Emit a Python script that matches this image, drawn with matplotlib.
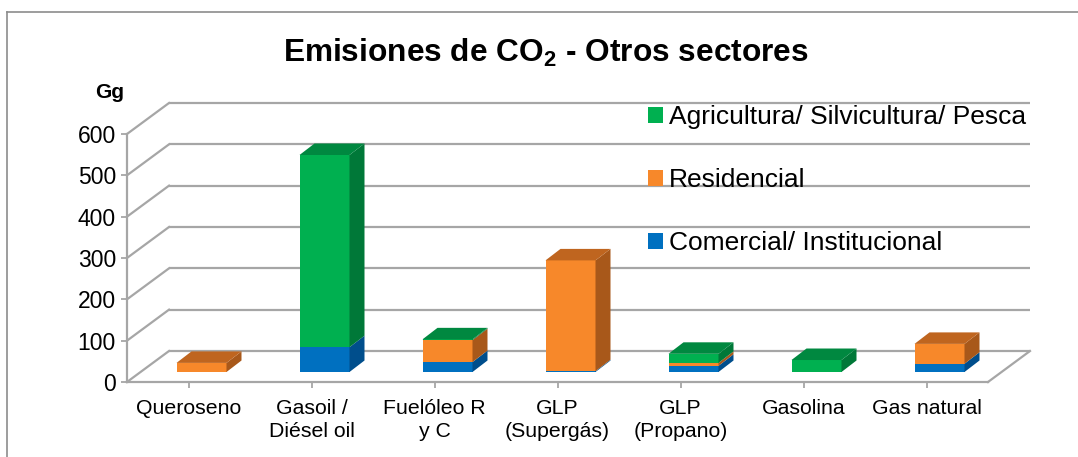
import matplotlib
matplotlib.use("Agg")
import matplotlib.pyplot as plt
from matplotlib.patches import Polygon
from matplotlib.lines import Line2D

# ---------------- data ----------------
categories = ["Queroseno", "Gasoil /\nDiésel oil", "Fuelóleo R\ny C", "GLP\n(Supergás)",
              "GLP\n(Propano)", "Gasolina", "Gas natural"]
comercial = [0, 60, 24, 2, 15, 0, 20]
residencial = [22, 0, 53, 268, 7, 0, 48]
agricultura = [0, 465, 2, 0, 22, 29, 0]
series_names = ["Comercial/ Institucional", "Residencial", "Agricultura/ Silvicultura/ Pesca"]
yticks = [0, 100, 200, 300, 400, 500, 600]

# ---------------- style ----------------
plt.rcParams['font.family'] = ['Liberation Sans', 'DejaVu Sans']
front_cols = ["#0070C0", "#F7882A", "#00B050"]
side_cols = ["#004E8C", "#A8581A", "#007838"]
top_cols = ["#005CA0", "#BF651F", "#008840"]
grid_col = "#A6A6A6"

W, H = 1078, 457
fig = plt.figure(figsize=(W / 100, H / 100), dpi=100)

# plot area geometry (pixels)
px_left, px_right, py_bottom, py_top = 127, 1033, 382, 104
cat_px = 123.0
val_px = 248.0 / 600.0
x0 = -0.5
x1 = x0 + (px_right - px_left) / cat_px
y1 = (py_bottom - py_top) / val_px
ax = fig.add_axes([px_left / W, (H - py_bottom) / H, (px_right - px_left) / W, (py_bottom - py_top) / H])
ax.set_xlim(x0, x1)
ax.set_ylim(0, y1)
ax.patch.set_alpha(0)

n = len(categories)
# depth offsets in data units
wall_dx, wall_dy = 42 / cat_px, 31 / val_px
bar_fx, bar_fy = 13 / cat_px, 10 / val_px
bar_dx, bar_dy = 15 / cat_px, 11.5 / val_px
bar_w = 50 / cat_px

# back wall gridlines and left diagonals
for v in yticks:
    ax.plot([x0 + wall_dx, n - 0.5 + wall_dx], [v + wall_dy, v + wall_dy], color=grid_col, lw=1.6,
            zorder=1, clip_on=False, solid_capstyle='butt')
    ax.plot([x0, x0 + wall_dx], [v, v + wall_dy], color=grid_col, lw=1.6, zorder=1, clip_on=False)
# floor right edge
ax.plot([n - 0.5, n - 0.5 + wall_dx], [0, wall_dy], color=grid_col, lw=1.6, zorder=1, clip_on=False)

# spines as front edges
for s in ["top", "right"]:
    ax.spines[s].set_visible(False)
ax.spines["left"].set_bounds(0, 600)
ax.spines["bottom"].set_bounds(-0.5, n - 0.5)
for s in ["left", "bottom"]:
    ax.spines[s].set_color(grid_col)
    ax.spines[s].set_linewidth(1.6)

ax.set_yticks(yticks)
ax.set_yticklabels([str(v) for v in yticks], fontsize=16.5)
ax.set_xticks(range(n))
ax.set_xticklabels(categories, fontsize=15.3, linespacing=1.3)
ax.tick_params(axis='y', direction='out', length=4, width=1.3, color=grid_col, pad=4)
ax.tick_params(axis='x', direction='out', length=4, width=1.3, color=grid_col, pad=8)

# bars
series = [comercial, residencial, agricultura]
handles = []
for si, vals in enumerate(series):
    bottoms = [sum(series[k][i] for k in range(si)) for i in range(n)]
    b = ax.bar([i + bar_fx for i in range(n)], vals, width=bar_w,
               bottom=[bt + bar_fy for bt in bottoms], color=front_cols[si], zorder=3,
               linewidth=0)
    handles.append(b)
    for i in range(n):
        if vals[i] <= 0:
            continue
        xr = i + bar_fx + bar_w / 2
        bb = bottoms[i] + bar_fy
        tt = bb + vals[i]
        ax.add_patch(Polygon([(xr, bb), (xr + bar_dx, bb + bar_dy), (xr + bar_dx, tt + bar_dy), (xr, tt)],
                             closed=True, facecolor=side_cols[si], edgecolor='none', zorder=3))

# top faces
for i in range(n):
    top_si = None
    tot = 0
    for si, vals in enumerate(series):
        tot += vals[i]
        if vals[i] > 0:
            top_si = si
    if top_si is None:
        continue
    xl = i + bar_fx - bar_w / 2
    xr = i + bar_fx + bar_w / 2
    tt = tot + bar_fy
    ax.add_patch(Polygon([(xl, tt), (xr, tt), (xr + bar_dx, tt + bar_dy), (xl + bar_dx, tt + bar_dy)],
                         closed=True, facecolor=top_cols[top_si], edgecolor='none', zorder=4))

# legend
leg = ax.legend([handles[2], handles[1], handles[0]],
                [series_names[2], series_names[1], series_names[0]],
                loc='upper left', bbox_to_anchor=(648 / W, (H - 105) / H),
                bbox_transform=fig.transFigure, frameon=False, fontsize=19,
                handlelength=0.55, handleheight=0.55, handletextpad=0.25,
                labelspacing=1.48, borderpad=0, borderaxespad=0)

# title and unit
fig.text(546 / W, 1 - 53 / H, r"Emisiones de CO$_\mathregular{2}$ - Otros sectores",
         ha='center', va='center', fontsize=22.8, fontweight='bold')
fig.text(110 / W, 1 - 93 / H, "Gg", ha='center', va='center', fontsize=15, fontweight='bold')

# chart area border
fig.add_artist(Line2D([7 / W, 7 / W], [0, 1 - 12 / H], transform=fig.transFigure, color="#8C8C8C", lw=1.2))
fig.add_artist(Line2D([7 / W, 1], [1 - 12 / H, 1 - 12 / H], transform=fig.transFigure, color="#8C8C8C", lw=1.2))

fig.savefig("out.png", dpi=100)
